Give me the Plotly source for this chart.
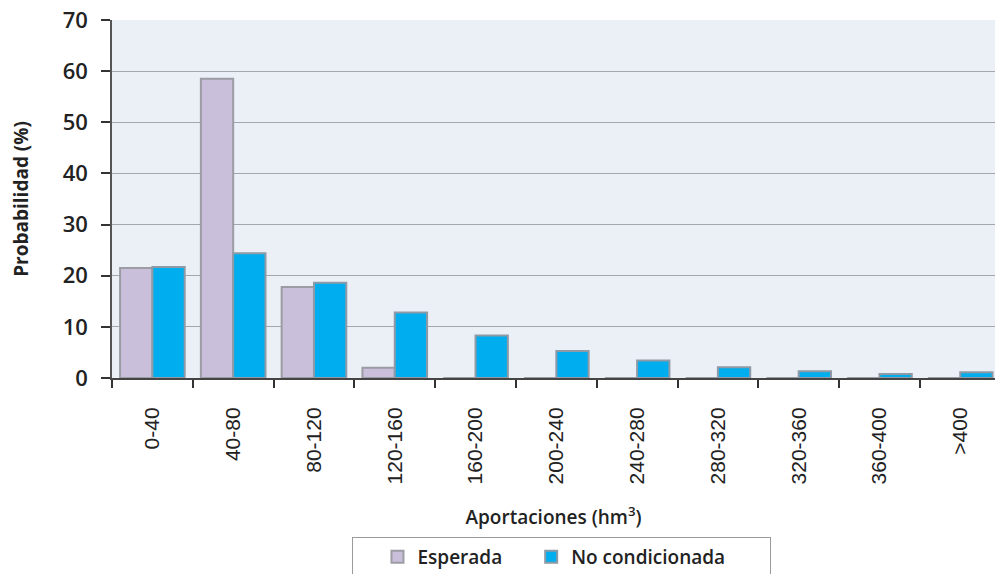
import plotly.graph_objects as go

categories = ["0-40", "40-80", "80-120", "120-160", "160-200", "200-240",
              "240-280", "280-320", "320-360", "360-400", ">400"]
esperada = [21.5, 58.5, 17.8, 2.0, 0, 0, 0, 0, 0, 0, 0]
no_condicionada = [21.7, 24.4, 18.6, 12.8, 8.3, 5.3, 3.4, 2.1, 1.3, 0.8, 1.1]
y_ticks = [0, 10, 20, 30, 40, 50, 60, 70]

NB = "\u00a0"
fig = go.Figure()
fig.add_trace(go.Bar(x=categories, y=esperada, name="Esperada",
                     marker=dict(color="#C9BFDA", line=dict(color="#9C9CA4", width=2))))
fig.add_trace(go.Bar(x=categories, y=no_condicionada, name="No condicionada" + NB * 8,
                     marker=dict(color="#00AEEF", line=dict(color="#8E9AA6", width=2))))

fig.update_layout(
    width=995, height=574,
    margin=dict(l=112, r=0, t=20, b=196, autoexpand=False),
    paper_bgcolor="white",
    plot_bgcolor="#EBEFF6",
    barmode="group",
    bargap=0.2,
    bargroupgap=0.0,
    font=dict(family="Open Sans", color="#222"),
    legend=dict(orientation="h", xref="container", yref="container",
                x=0.5648, xanchor="center", y=0.0645, yanchor="top",
                bordercolor="#9A9A9A", borderwidth=1,
                font=dict(size=19, family="Open Sans", color="#222", weight=600),
                itemwidth=30, indentation=24,
                bgcolor="white"),
    showlegend=True,
)
fig.update_xaxes(
    range=[-0.5, 10.43],
    tickangle=-90,
    tickson="boundaries",
    ticks="outside", ticklen=8, tickwidth=1.5, tickcolor="#333",
    ticklabelstandoff=19,
    showline=True, linecolor="#444", linewidth=2,
    tickfont=dict(family="Liberation Sans", size=21, color="#222"),
    title=dict(text="Aportaciones (hm<sup>3</sup>)", standoff=27,
               font=dict(family="Open Sans", size=19, color="#222", weight=600)),
    showgrid=False,
    automargin=False,
)
fig.update_yaxes(
    range=[0, 70],
    tickvals=y_ticks,
    ticks="outside", ticklen=9, tickwidth=1.5, tickcolor="#333",
    ticklabelstandoff=9,
    showline=True, linecolor="#555", linewidth=1.5,
    gridcolor="#A3A6AB", gridwidth=1,
    tickfont=dict(family="Open Sans", size=22, color="#222", weight=600),
    title=dict(text="Probabilidad (%)", standoff=29,
               font=dict(family="Open Sans", size=19, color="#222", weight="bold")),
    zeroline=False,
    automargin=False,
)

post = ("document.body.style.margin='0';document.body.style.overflow='hidden';"
        "var gd=document.getElementById('{plot_id}');"
        "Plotly.relayout(gd,{width:995,height:574});")
fig.write_html("out.html", post_script=post, config={"displayModeBar": False})
